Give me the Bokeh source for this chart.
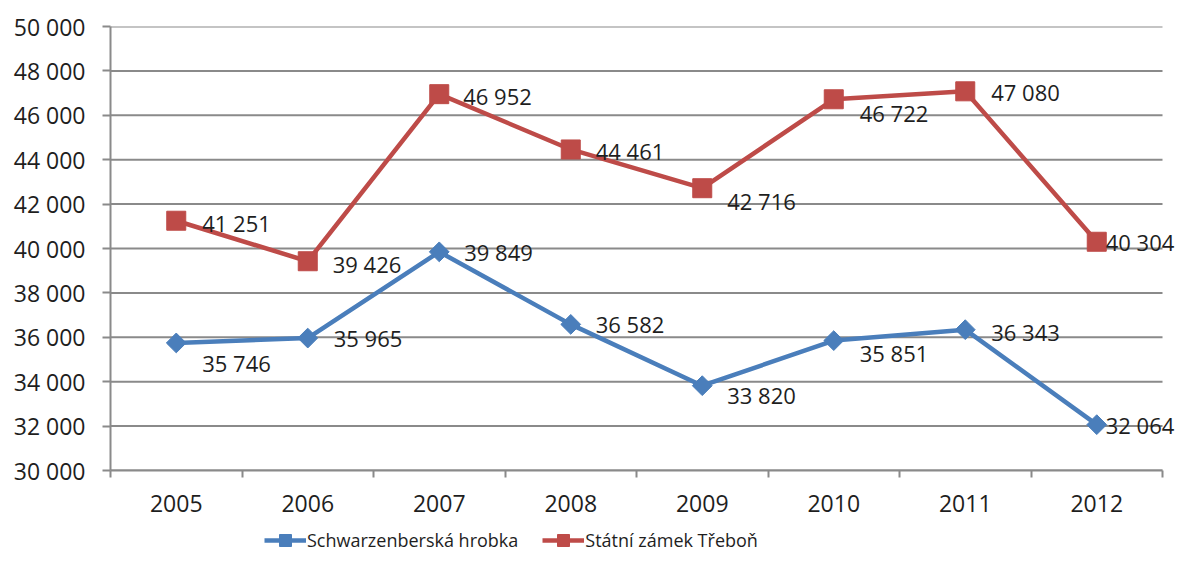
import math
from bokeh.plotting import figure
from bokeh.layouts import column
from bokeh.models import (Range1d, FixedTicker, Legend, LegendItem, ColumnDataSource, LabelSet)
from bokeh.core.properties import value
from bokeh.embed import file_html
from bokeh.resources import INLINE

# ---- data ----
years = ["2005", "2006", "2007", "2008", "2009", "2010", "2011", "2012"]
schwarzenberg = [35746, 35965, 39849, 36582, 33820, 35851, 36343, 32064]
trebon = [41251, 39426, 46952, 44461, 42716, 46722, 47080, 40304]
series_names = ["Schwarzenberská hrobka", "Státní zámek Třeboň"]
y_ticks = list(range(30000, 50001, 2000))

# ---- label placement (screen px offsets, style only) ----
blue_dx = [26, 26, 25, 25, 25, 26, 26, 9]
blue_dy = [-20, 0, 0, 0, -9, -12, -2, 0]
red_dx = [26, 25, 24, 25, 25, 26, 26, 9]
red_dy = [-2, -3, -2, -2, -13, -14, -1, 0]

def fmt(v):
    return f"{v:,}".replace(",", "\u00a0")

FONT = "Open Sans"
BLUE = "#4A7EBB"
RED = "#BE4B48"
GRID = "#8a8a8a"
TXT = "#1e1e1e"

W, H, LEG_H = 1178, 522, 36
LEFT, TOP, BOTTOM = 110, 26, 52
PAD_RIGHT_PX = 16          # free room right of the last category, for its labels
n = len(years)
frame_w = W - LEFT
ppu = (frame_w - PAD_RIGHT_PX) / n
xs = [i + 0.5 for i in range(n)]

p = figure(width=W, height=H, output_backend="svg", toolbar_location=None,
           x_range=Range1d(0, n + PAD_RIGHT_PX / ppu), y_range=Range1d(30000, 50000),
           min_border_left=LEFT, min_border_right=0, min_border_top=TOP, min_border_bottom=BOTTOM)
p.outline_line_color = None
p.background_fill_color = "white"

# horizontal gridlines, stopping at the last category boundary
p.xgrid.grid_line_color = None
p.ygrid.grid_line_color = None
p.segment(x0=[0] * len(y_ticks), x1=[n] * len(y_ticks), y0=y_ticks, y1=y_ticks,
          line_color=GRID, line_width=2)

# axes
p.xaxis.bounds = (0, n)
p.xaxis.ticker = FixedTicker(ticks=xs, minor_ticks=list(range(n + 1)))
p.xaxis.major_label_overrides = {x: y for x, y in zip(xs, years)}
p.xaxis.major_tick_out = 0
p.xaxis.major_tick_in = 0
p.xaxis.minor_tick_out = 7
p.xaxis.minor_tick_in = 0
p.xaxis.minor_tick_line_color = GRID
p.xaxis.minor_tick_line_width = 2
p.xaxis.axis_line_color = GRID
p.xaxis.axis_line_width = 2
p.xaxis.major_label_standoff = 17
p.xaxis.major_label_text_font = FONT
p.xaxis.major_label_text_font_size = "23px"
p.xaxis.major_label_text_color = TXT

p.yaxis.ticker = FixedTicker(ticks=y_ticks, minor_ticks=[])
p.yaxis.major_label_overrides = {t: fmt(t) for t in y_ticks}
p.yaxis.major_tick_out = 8
p.yaxis.major_tick_in = 0
p.yaxis.major_tick_line_color = GRID
p.yaxis.major_tick_line_width = 2
p.yaxis.axis_line_color = GRID
p.yaxis.axis_line_width = 2
p.yaxis.major_label_standoff = 17
p.yaxis.major_label_text_font = FONT
p.yaxis.major_label_text_font_size = "23px"
p.yaxis.major_label_text_color = TXT

# series
src_b = ColumnDataSource(dict(x=xs, y=schwarzenberg, t=[fmt(v) for v in schwarzenberg], dx=blue_dx, dy=blue_dy))
src_r = ColumnDataSource(dict(x=xs, y=trebon, t=[fmt(v) for v in trebon], dx=red_dx, dy=red_dy))

p.line("x", "y", source=src_b, line_color=BLUE, line_width=4.5)
p.scatter("x", "y", source=src_b, marker="square", size=14, angle=math.pi / 4,
          fill_color=BLUE, line_color=BLUE)
p.line("x", "y", source=src_r, line_color=RED, line_width=4.5)
p.scatter("x", "y", source=src_r, marker="square", size=19, fill_color=RED, line_color=RED)

for src in (src_b, src_r):
    labels = LabelSet(x="x", y="y", text="t", source=src, x_offset="dx", y_offset="dy",
                      text_font=value(FONT), text_font_size="22px", text_color=TXT,
                      text_baseline="middle", text_align="left")
    p.add_layout(labels)

# ---- legend strip below the chart (its frame aligns with the chart frame) ----
lg = figure(width=W, height=LEG_H, output_backend="svg", toolbar_location=None,
            x_range=Range1d(0, 1), y_range=Range1d(0, 1), x_axis_type=None, y_axis_type=None,
            min_border_left=LEFT, min_border_right=0, min_border_top=0, min_border_bottom=0)
lg.outline_line_color = None
lg.xgrid.grid_line_color = None
lg.ygrid.grid_line_color = None
# legend-only renderers: their single point lies outside this strip's ranges, so only the legend shows them
l1 = lg.line(x=xs[:1], y=schwarzenberg[:1], line_color=BLUE, line_width=4.5)
m1 = lg.scatter(x=xs[:1], y=schwarzenberg[:1], marker="square", size=12, angle=math.pi / 4,
                fill_color=BLUE, line_color=BLUE)
l2 = lg.line(x=xs[:1], y=trebon[:1], line_color=RED, line_width=4.5)
m2 = lg.scatter(x=xs[:1], y=trebon[:1], marker="square", size=15, fill_color=RED, line_color=RED)

legend = Legend(items=[LegendItem(label=series_names[0], renderers=[l1, m1]),
                       LegendItem(label=series_names[1], renderers=[l2, m2])],
                orientation="horizontal", location=(264 - LEFT, 3),
                label_text_font=FONT, label_text_font_size="18px", label_text_color=TXT,
                glyph_width=42, glyph_height=30, spacing=24, label_standoff=1,
                border_line_color=None, background_fill_alpha=0, margin=0, padding=0)
lg.add_layout(legend, "center")

layout = column(p, lg, spacing=0)
open("out.html", "w").write(file_html(layout, INLINE))
